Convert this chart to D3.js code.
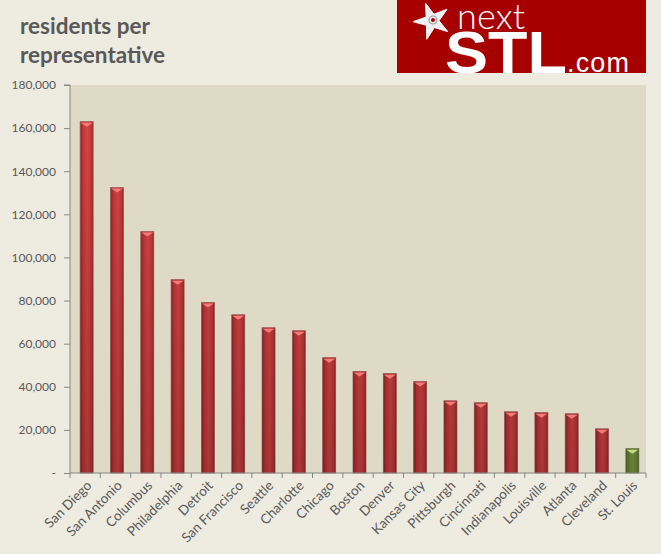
<!DOCTYPE html>
<html>
<head>
<meta charset="utf-8">
<script src="https://cdn.jsdelivr.net/npm/d3@7"></script>
<style>
  body { margin: 0; background: #eeebe1; }
  svg { display: block; }
</style>
</head>
<body>
<div id="chart"></div>
<script>
// values
const cities = ['San Diego', 'San Antonio', 'Columbus', 'Philadelphia', 'Detroit', 'San Francisco',
  'Seattle', 'Charlotte', 'Chicago', 'Boston', 'Denver', 'Kansas City', 'Pittsburgh', 'Cincinnati',
  'Indianapolis', 'Louisville', 'Atlanta', 'Cleveland', 'St. Louis'];
const residents = [163000, 132400, 112000, 89700, 79100, 73400, 67400, 66000, 53500, 47100,
  46100, 42400, 33500, 32600, 28400, 28000, 27500, 20500, 11300];
const highlight = ['St. Louis'];
const yTicks = [0, 20000, 40000, 60000, 80000, 100000, 120000, 140000, 160000, 180000];

function drawChart() {
  const w = 661;
  const h = 554;
  const plot = { left: 70, right: 646, top: 85, bottom: 473 };

  const svg = d3.select('#chart').append('svg').attr('width', w).attr('height', h);

  // gradients for the cylinder look
  const defs = svg.append('defs');
  function barGradient(id, edge, mid, light) {
    const g = defs.append('linearGradient').attr('id', id).attr('x1', 0).attr('x2', 1).attr('y1', 0).attr('y2', 0);
    g.append('stop').attr('offset', '0%').attr('stop-color', edge);
    g.append('stop').attr('offset', '22%').attr('stop-color', mid);
    g.append('stop').attr('offset', '55%').attr('stop-color', light);
    g.append('stop').attr('offset', '85%').attr('stop-color', mid);
    g.append('stop').attr('offset', '100%').attr('stop-color', edge);
  }
  barGradient('redBar', '#8a2626', '#c93838', '#da4646');
  barGradient('greenBar', '#55702a', '#74933a', '#86a545');
  // bars get darker toward the baseline
  const shade = defs.append('linearGradient').attr('id', 'shade')
    .attr('gradientUnits', 'userSpaceOnUse')
    .attr('x1', 0).attr('x2', 0).attr('y1', plot.top).attr('y2', plot.bottom);
  shade.append('stop').attr('offset', '0%').attr('stop-color', '#000').attr('stop-opacity', 0);
  shade.append('stop').attr('offset', '100%').attr('stop-color', '#000').attr('stop-opacity', 0.22);

  svg.append('rect').attr('x', 0).attr('y', 0).attr('width', w).attr('height', h).attr('fill', '#eeebe1');
  svg.append('rect')
    .attr('x', plot.left).attr('y', plot.top)
    .attr('width', plot.right - plot.left).attr('height', plot.bottom - plot.top)
    .attr('fill', '#dedac5');

  const x = d3.scaleBand().domain(cities).range([plot.left, plot.right]);
  const y = d3.scaleLinear().domain([0, 180000]).range([plot.bottom, plot.top]);
  const barW = 13;
  const cx = (c) => x(c) + x.bandwidth() / 2 + 1.5;

  const bars = svg.selectAll('g.bar')
    .data(cities.map((c, i) => ({ city: c, value: residents[i] })))
    .enter()
    .append('g')
    .attr('class', 'bar');

  bars.append('rect')
    .attr('x', (d) => cx(d.city) - barW / 2)
    .attr('y', (d) => y(d.value))
    .attr('width', barW)
    .attr('height', (d) => y(0) - y(d.value))
    .attr('fill', (d) => (highlight.includes(d.city) ? 'url(#greenBar)' : 'url(#redBar)'))
    .attr('stroke', (d) => (highlight.includes(d.city) ? '#6d7f4e' : '#a45a5a'))
    .attr('stroke-width', 0.8);

  bars.append('rect')
    .attr('x', (d) => cx(d.city) - barW / 2)
    .attr('y', (d) => y(d.value))
    .attr('width', barW)
    .attr('height', (d) => y(0) - y(d.value))
    .attr('fill', 'url(#shade)');

  // little lit cap at the top of each bar
  bars.append('path')
    .attr('d', (d) => {
      const c = cx(d.city);
      const t = y(d.value);
      return `M${c - 6},${t + 1} L${c + 6},${t + 1} L${c},${t + 5} Z`;
    })
    .attr('fill', (d) => (highlight.includes(d.city) ? '#c4dc7a' : '#f57a7a'));

  // y axis
  const yAxis = d3.axisLeft(y)
    .tickValues(yTicks)
    .tickSize(6)
    .tickFormat((d) => (d === 0 ? '-' : d3.format(',')(d)));
  const ya = svg.append('g').attr('transform', `translate(${plot.left},0)`).call(yAxis);
  ya.select('.domain').attr('stroke', '#868686').attr('d', `M-6,${plot.top}H0V${plot.bottom}`);
  ya.selectAll('.tick line').attr('stroke', '#868686');
  ya.selectAll('.tick text')
    .attr('x', -14)
    .attr('fill', '#595959')
    .style('font-family', 'Lato, "Open Sans", sans-serif')
    .style('font-size', '12px');

  // x axis
  const xAxis = d3.axisBottom(x).tickSize(0);
  const xa = svg.append('g').attr('transform', `translate(0,${plot.bottom})`).call(xAxis);
  xa.select('.domain').attr('stroke', '#868686').attr('d', `M${plot.left},0H${plot.right}`);
  xa.selectAll('.tick line').remove();
  xa.selectAll('.tick text')
    .attr('fill', '#595959')
    .attr('text-anchor', 'end')
    .attr('transform', 'translate(4,10) rotate(-45)')
    .attr('dy', '0.35em')
    .attr('y', 0)
    .style('font-family', 'Lato, "Open Sans", sans-serif')
    .style('font-size', '13.5px');
  // category separator ticks
  svg.append('g')
    .selectAll('line')
    .data(cities.concat(['end']))
    .enter()
    .append('line')
    .attr('x1', (d) => (d === 'end' ? plot.right : x(d)))
    .attr('x2', (d) => (d === 'end' ? plot.right : x(d)))
    .attr('y1', plot.bottom)
    .attr('y2', plot.bottom + 5)
    .attr('stroke', '#868686');

  // title
  const title = svg.append('text')
    .attr('fill', '#595959')
    .style('font-family', 'Lato, "Open Sans", sans-serif')
    .style('font-weight', 'bold')
    .style('font-size', '22.5px');
  title.append('tspan').attr('x', 20).attr('y', 34).text('residents per');
  title.append('tspan').attr('x', 20).attr('y', 63).text('representative');

  // nextSTL logo
  const logo = svg.append('g');
  logo.append('rect').attr('x', 397).attr('y', 0).attr('width', 249).attr('height', 73).attr('fill', '#a70000');
  const star = d3.range(10).map((i) => {
    const a = -Math.PI / 2 - 0.35 + (i * Math.PI) / 5;
    const r = i % 2 === 0 ? 19 : 7;
    return [432 + r * Math.cos(a), 21 + r * Math.sin(a)];
  });
  logo.append('path').attr('d', d3.line()(star) + 'Z').attr('fill', '#f0f0f0').attr('stroke', '#ffffff');
  logo.append('circle').attr('cx', 433).attr('cy', 20).attr('r', 4).attr('fill', 'none').attr('stroke', '#999').attr('stroke-width', 1.2);
  logo.append('circle').attr('cx', 433).attr('cy', 20).attr('r', 2).attr('fill', '#a70000');
  logo.append('text').attr('x', 457).attr('y', 29).attr('fill', '#fff')
    .attr('textLength', 68)
    .style('font-family', 'Lato, sans-serif').style('font-weight', 300)
    .style('font-size', '36px').text('next');
  logo.append('text').attr('x', 445).attr('y', 73).attr('fill', '#fff')
    .style('font-family', '"Liberation Sans", sans-serif').style('font-weight', 'bold')
    .style('font-size', '60px').attr('textLength', 122).attr('lengthAdjust', 'spacingAndGlyphs').text('STL');
  logo.append('text').attr('x', 567).attr('y', 72).attr('fill', '#fff')
    .attr('textLength', 62)
    .style('font-family', '"Liberation Sans", sans-serif').style('font-size', '27px').text('.com');
}

window.onload = function () {
  drawChart();
};
</script>
</body>
</html>
